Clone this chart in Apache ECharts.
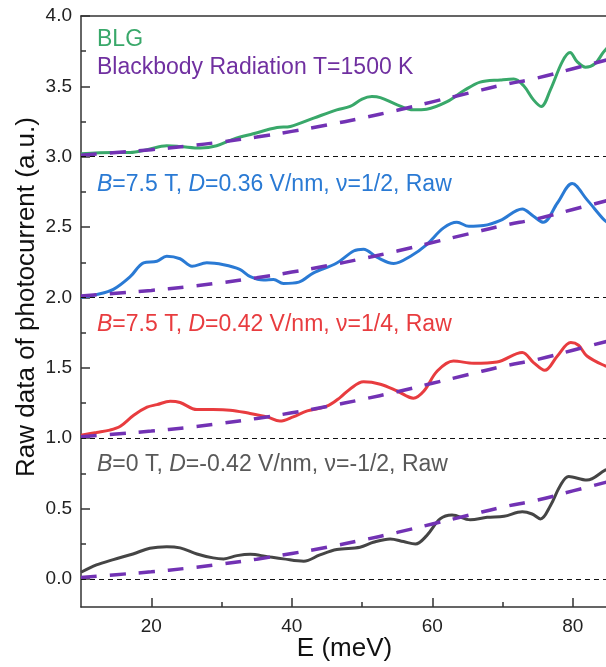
<!DOCTYPE html>
<html>
<head>
<meta charset="utf-8">
<script src="https://cdn.jsdelivr.net/npm/echarts@6/dist/echarts.min.js"></script>
<style>html,body{margin:0;padding:0;background:#fff}#c{width:606px;height:667px}</style>
</head>
<body>
<div id="c"></div>
<script>
// ---- Data ----
const xRange = [10, 85];
const yRange = [-0.2, 4.0];
const xTicks = [20, 40, 60, 80];          // labelled x ticks (minor ticks halfway)
const yTicks = [0, 0.5, 1.0, 1.5, 2.0, 2.5, 3.0, 3.5, 4.0]; // labelled y ticks (minor halfway)
const baselines = [0, 1, 2, 3];

const grayE = [10,12.2,14.6,17.4,19.8,22.2,24.1,26.5,28.8,30.3,32.2,34.1,36.5,38.8,41.7,44.0,46.4,49.7,51.6,54.0,55.9,57.6,59.2,61.1,62.8,65.4,67.8,70.2,72.8,74.2,75.4,76.8,78.2,79.4,82.0,84.6,85];
const grayV = [0.047,0.099,0.137,0.177,0.218,0.229,0.22,0.177,0.149,0.142,0.165,0.175,0.158,0.142,0.125,0.17,0.208,0.225,0.26,0.284,0.265,0.248,0.307,0.426,0.454,0.42,0.437,0.445,0.477,0.461,0.426,0.52,0.662,0.728,0.702,0.773,0.78];

const redE = [10,12.2,14.1,15.6,17.5,19.4,20.8,22.7,24.1,26.5,28.8,31.2,33.6,36.5,38.3,40.2,42.2,45.0,46.9,48.3,50.2,52.6,55.0,57.3,58.8,60.7,63.0,65.9,69.2,72.8,74.4,76.0,77.8,79.7,80.8,82.0,84.6,85];
const redV = [1.021,1.04,1.057,1.085,1.163,1.22,1.238,1.262,1.253,1.203,1.203,1.199,1.18,1.151,1.121,1.151,1.194,1.227,1.29,1.35,1.40,1.383,1.335,1.284,1.335,1.477,1.548,1.532,1.541,1.608,1.537,1.482,1.584,1.679,1.66,1.584,1.513,1.51];

const blueE = [10,12.2,14.6,17.0,18.9,20.8,22.2,24.1,25.8,27.9,30.3,32.6,34.1,36.0,37.4,38.8,41.0,43.1,46.4,48.8,50.2,52.1,54.5,56.9,59.2,61.6,63.5,65.2,67.3,69.7,72.8,74.4,75.8,77.8,79.9,82.0,84.4,85];
const blueV = [2.0,2.02,2.057,2.147,2.246,2.257,2.293,2.275,2.222,2.246,2.232,2.199,2.147,2.123,2.128,2.099,2.109,2.175,2.245,2.33,2.343,2.286,2.241,2.293,2.376,2.494,2.534,2.506,2.511,2.548,2.629,2.577,2.534,2.671,2.809,2.695,2.553,2.53];

const greenE = [10,14.6,17.0,19.4,22.2,24.1,27.0,29.3,31.7,34.5,37.9,39.8,43.1,46.4,48.3,50.0,51.4,52.6,55.0,57.3,59.2,62.1,64.5,66.8,69.7,71.6,73.0,74.4,75.5,76.8,78.5,79.6,80.6,81.8,83.2,84.3,85];
const greenV = [3.021,3.03,3.03,3.05,3.078,3.073,3.062,3.078,3.125,3.163,3.207,3.215,3.274,3.333,3.357,3.41,3.428,3.42,3.369,3.333,3.338,3.392,3.47,3.53,3.546,3.553,3.504,3.404,3.357,3.475,3.676,3.74,3.676,3.636,3.664,3.74,3.78];

// blackbody curve (shape), drawn at each baseline offset
const bbE = [10,15,20,25,30,35,40,45,50,55,60,65,70,75,80,85];
const bbV = [0.01,0.03,0.05,0.075,0.105,0.14,0.18,0.225,0.275,0.33,0.39,0.45,0.51,0.56,0.625,0.69];
const bbOffsets = [0, 1, 2, 3];

// ---- Layout / styles ----
const FONT = 'Liberation Sans, Arial, sans-serif';
const AX = '#333';
const C_GREEN = '#39a86a', C_BLUE = '#2a7ad4', C_RED = '#e83c3f', C_GRAY = '#454545', C_PURPLE = '#7232b4';
const G = {left:81, top:16, width:527, height:591};
const xStep = xTicks[1] - xTicks[0];
const yStep = yTicks[1] - yTicks[0];
const pxPerX = G.width / (xRange[1] - xRange[0]);
const pxPerY = G.height / (yRange[1] - yRange[0]);
// helper grids so that tick axes start on a tick value
const gridY = {left:G.left, top:G.top, width:G.width, height:(yTicks[yTicks.length-1] - yTicks[0]) * pxPerY};
const gridX = {left:G.left + (xTicks[0] - xRange[0]) * pxPerX, top:G.top, width:(xRange[1] - xTicks[0]) * pxPerX, height:G.height};

const zip = (xs, ys, off) => xs.map((x, i) => [x, ys[i] + (off || 0)]);

function lineSeries(xs, ys, color) {
  return {type:'line', data: zip(xs, ys), smooth: 0.35, symbol:'none', xAxisIndex:0, yAxisIndex:0,
    lineStyle:{color, width:3}, z:3, silent:true};
}

const series = [
  {type:'line', data:[], xAxisIndex:0, yAxisIndex:0, symbol:'none', silent:true,
   markLine:{silent:true, symbol:'none', label:{show:false},
     lineStyle:{color:'#111', width:1.2, type:[5,4]},
     data: baselines.map(b => ({yAxis:b}))}},
  lineSeries(grayE, grayV, C_GRAY),
  lineSeries(redE, redV, C_RED),
  lineSeries(blueE, blueV, C_BLUE),
  lineSeries(greenE, greenV, C_GREEN),
];
bbOffsets.forEach(o => series.push({type:'line', data: zip(bbE, bbV, o), smooth:true, symbol:'none',
  xAxisIndex:0, yAxisIndex:0, silent:true, z:4,
  lineStyle:{color:C_PURPLE, width:3.5, type:[16,13]}}));

const hidden = {show:false};
const tickStyle = {color:AX, width:1.5};

const chart = echarts.init(document.getElementById('c'), null, {renderer:'canvas'});
chart.setOption({
  animation:false,
  backgroundColor:'#fff',
  textStyle:{fontFamily:FONT},
  grid:[
    Object.assign({containLabel:false, outerBoundsMode:'none'}, G),
    Object.assign({containLabel:false, outerBoundsMode:'none'}, gridY),
    Object.assign({containLabel:false, outerBoundsMode:'none'}, gridX)
  ],
  xAxis:[
    {gridIndex:0, type:'value', min:xRange[0], max:xRange[1], position:'bottom',
     axisLine:{show:true, onZero:false, lineStyle:{color:AX, width:1.5}},
     axisTick:hidden, axisLabel:hidden, splitLine:hidden,
     name:'E (meV)', nameLocation:'middle', nameGap:29,
     nameTextStyle:{fontSize:26, color:'#111', fontFamily:FONT}},
    {gridIndex:0, type:'value', min:xRange[0], max:xRange[1], position:'top',
     axisLine:{show:true, onZero:false, lineStyle:{color:AX, width:1.5}},
     axisTick:hidden, axisLabel:hidden, splitLine:hidden},
    {gridIndex:1, type:'value', show:false, min:xRange[0], max:xRange[1]},
    {gridIndex:2, type:'value', min:xTicks[0], max:xRange[1], interval:xStep, position:'bottom',
     axisLine:{show:false, onZero:false}, splitLine:hidden,
     axisTick:{show:true, inside:true, length:9, lineStyle:tickStyle},
     minorTick:{show:true, splitNumber:2, length:5, lineStyle:tickStyle},
     axisLabel:{show:true, fontSize:19, color:'#222', margin:10, fontFamily:FONT,
       formatter: v => xTicks.includes(v) ? String(v) : ''}}
  ],
  yAxis:[
    {gridIndex:0, type:'value', min:yRange[0], max:yRange[1], position:'left',
     axisLine:{show:true, onZero:false, lineStyle:{color:AX, width:1.5}},
     axisTick:hidden, axisLabel:hidden, splitLine:hidden},
    {gridIndex:1, type:'value', min:yTicks[0], max:yTicks[yTicks.length-1], interval:yStep, position:'left',
     axisLine:{show:false, onZero:false}, splitLine:hidden,
     axisTick:{show:true, inside:true, length:9, lineStyle:tickStyle},
     minorTick:{show:true, splitNumber:2, length:5, lineStyle:tickStyle},
     axisLabel:{show:true, fontSize:19, color:'#222', margin:9, fontFamily:FONT,
       formatter: v => Number(v).toFixed(1)}},
    {gridIndex:2, type:'value', show:false, min:yRange[0], max:yRange[1]}
  ],
  graphic:[
    {type:'text', x:27, y:297, rotation:Math.PI/2,
     style:{text:'Raw data of photocurrent (a.u.)', font:'26px ' + FONT, fill:'#111',
       align:'center', verticalAlign:'middle', textAlign:'center', textVerticalAlign:'middle'}},
    {type:'text', x:97, y:40, style:{text:'BLG', font:'23px ' + FONT, fill:C_GREEN, verticalAlign:'middle', textVerticalAlign:'middle'}},
    {type:'text', x:97, y:68, style:{text:'Blackbody Radiation T=1500 K', font:'23px ' + FONT, fill:'#7030a0', verticalAlign:'middle', textVerticalAlign:'middle'}},
    {type:'text', x:97, y:185, style:{text:'{i|B}=7.5 T, {i|D}=0.36 V/nm, ν=1/2, Raw', font:'23px ' + FONT, fill:C_BLUE,
       verticalAlign:'middle', textVerticalAlign:'middle', rich:{i:{fontStyle:'italic', fontSize:23, fontFamily:FONT, fill:C_BLUE}}}},
    {type:'text', x:97, y:325, style:{text:'{i|B}=7.5 T, {i|D}=0.42 V/nm, ν=1/4, Raw', font:'23px ' + FONT, fill:C_RED,
       verticalAlign:'middle', textVerticalAlign:'middle', rich:{i:{fontStyle:'italic', fontSize:23, fontFamily:FONT, fill:C_RED}}}},
    {type:'text', x:97, y:465, style:{text:'{i|B}=0 T, {i|D}=-0.42 V/nm, ν=-1/2, Raw', font:'23px ' + FONT, fill:'#595959',
       verticalAlign:'middle', textVerticalAlign:'middle', rich:{i:{fontStyle:'italic', fontSize:23, fontFamily:FONT, fill:'#595959'}}}}
  ],
  series
});
</script>
</body>
</html>
